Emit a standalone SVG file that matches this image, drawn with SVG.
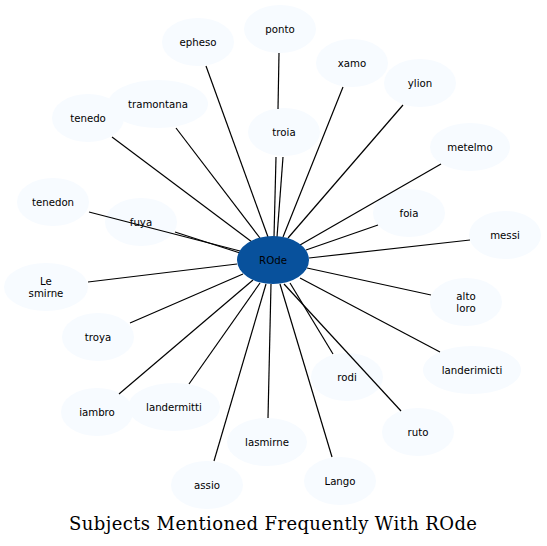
<svg xmlns="http://www.w3.org/2000/svg" width="547" height="546" viewBox="0 0 547 546">
<style>
.n ellipse{fill:#f7fbff;stroke:none}
.n text,.c text{font-family:"DejaVu Sans",sans-serif;font-size:10.2px;text-anchor:middle;fill:#000}
.e line{stroke:#000;stroke-width:1.2}
.t{font-family:"DejaVu Serif",serif;font-size:18px;text-anchor:middle;fill:#000}
</style>
<rect width="547" height="546" fill="#fff"/>
<g id="nodes-outer">
<g id="epheso" class="n"><ellipse cx="198" cy="42" rx="36" ry="24"/><text x="198" y="46">epheso</text></g>
<g id="ponto" class="n"><ellipse cx="280" cy="29" rx="36" ry="24"/><text x="280" y="33">ponto</text></g>
<g id="xamo" class="n"><ellipse cx="352" cy="63" rx="36" ry="24"/><text x="352" y="67">xamo</text></g>
<g id="ylion" class="n"><ellipse cx="420" cy="83" rx="36" ry="24"/><text x="420" y="87">ylion</text></g>
<g id="tramontana" class="n"><ellipse cx="158" cy="104" rx="50" ry="24"/><text x="158" y="108">tramontana</text></g>
<g id="tenedo" class="n"><ellipse cx="88" cy="118" rx="36" ry="24"/><text x="88" y="122">tenedo</text></g>
<g id="troia" class="n"><ellipse cx="284" cy="132" rx="36" ry="24"/><text x="284" y="136">troia</text></g>
<g id="metelmo" class="n"><ellipse cx="470" cy="147" rx="40" ry="24"/><text x="470" y="151">metelmo</text></g>
<g id="tenedon" class="n"><ellipse cx="53" cy="202" rx="36" ry="24"/><text x="53" y="206">tenedon</text></g>
<g id="fuya" class="n"><ellipse cx="141" cy="222" rx="36" ry="24"/></g>
<g id="foia" class="n"><ellipse cx="409" cy="213" rx="36" ry="24"/><text x="409" y="217">foia</text></g>
<g id="messi" class="n"><ellipse cx="505" cy="235" rx="36" ry="24"/><text x="505" y="239">messi</text></g>
<g id="le-smirne" class="n"><ellipse cx="46" cy="287" rx="42" ry="24"/><text x="46" y="285">Le</text><text x="46" y="297">smirne</text></g>
<g id="alto-loro" class="n"><ellipse cx="466" cy="302" rx="36" ry="24"/><text x="466" y="300">alto</text><text x="466" y="312">loro</text></g>
<g id="troya" class="n"><ellipse cx="98" cy="337" rx="36" ry="24"/><text x="98" y="341">troya</text></g>
<g id="rodi" class="n"><ellipse cx="347" cy="377" rx="36" ry="24"/><text x="347" y="381">rodi</text></g>
<g id="landerimicti" class="n"><ellipse cx="472" cy="370" rx="49" ry="24"/><text x="472" y="374">landerimicti</text></g>
<g id="iambro" class="n"><ellipse cx="97" cy="412" rx="36" ry="24"/><text x="97" y="416">iambro</text></g>
<g id="landermitti" class="n"><ellipse cx="174" cy="407" rx="46" ry="24"/><text x="174" y="411">landermitti</text></g>
<g id="ruto" class="n"><ellipse cx="418" cy="432" rx="36" ry="24"/><text x="418" y="436">ruto</text></g>
<g id="lasmirne" class="n"><ellipse cx="267" cy="442" rx="40" ry="24"/><text x="267" y="446">lasmirne</text></g>
<g id="assio" class="n"><ellipse cx="207" cy="485" rx="36" ry="24"/><text x="207" y="489">assio</text></g>
<g id="lango" class="n"><ellipse cx="340" cy="481" rx="36" ry="24"/><text x="340" y="485">Lango</text></g>
</g>
<g id="connectors" class="e">
<line x1="206" y1="66" x2="268" y2="237"/>
<line x1="279" y1="53" x2="278" y2="109"/>
<line x1="276" y1="157" x2="274" y2="237"/>
<line x1="283" y1="157" x2="277" y2="237"/>
<line x1="343" y1="87" x2="283" y2="237"/>
<line x1="403" y1="105" x2="288" y2="238"/>
<line x1="176" y1="128" x2="260" y2="238"/>
<line x1="112" y1="137" x2="252" y2="242"/>
<line x1="441" y1="164" x2="300" y2="245"/>
<line x1="89" y1="212" x2="240" y2="251"/>
<line x1="175" y1="232" x2="240" y2="253"/>
<line x1="378" y1="225" x2="306" y2="250"/>
<line x1="470" y1="240" x2="309" y2="258"/>
<line x1="88" y1="282" x2="237" y2="264"/>
<line x1="431" y1="295" x2="307" y2="268"/>
<line x1="130" y1="323" x2="243" y2="274"/>
<line x1="440" y1="352" x2="300" y2="278"/>
<line x1="333" y1="354" x2="290" y2="283"/>
<line x1="401" y1="411" x2="284" y2="284"/>
<line x1="119" y1="394" x2="253" y2="280"/>
<line x1="189" y1="384" x2="260" y2="283"/>
<line x1="268" y1="418" x2="271" y2="284"/>
<line x1="214" y1="461" x2="266" y2="284"/>
<line x1="332" y1="457" x2="280" y2="284"/>
</g>
<g id="fuya-label" class="c"><text x="141" y="226">fuya</text></g>
<g id="rode" class="c"><ellipse cx="273" cy="260" rx="36" ry="24" fill="#08519c"/><text x="273" y="264">ROde</text></g>
<text class="t" x="273" y="530" textLength="408" lengthAdjust="spacing">Subjects Mentioned Frequently With ROde</text>
</svg>
